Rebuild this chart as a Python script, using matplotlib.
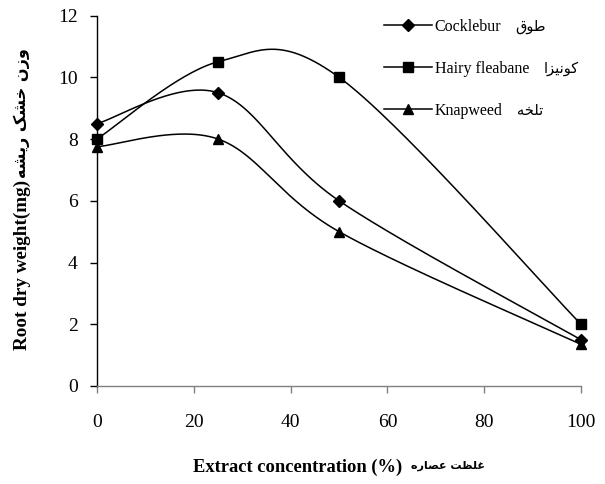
import numpy as np
import matplotlib
matplotlib.use("Agg")
import matplotlib.pyplot as plt
from matplotlib.lines import Line2D

conc = [0, 25, 50, 100]
cocklebur = [8.5, 9.5, 6.0, 1.5]
hairy_fleabane = [8.0, 10.5, 10.0, 2.0]
knapweed = [7.75, 8.0, 5.0, 1.35]

# Persian labels in visual (shaped) order
fa_cocklebur = "\uFED5\uFEEE\uFEC3"
fa_fleabane = "\uFE8D\uFEB0\uFBFF\uFEE7\uFEEE\uFB90"
fa_knapweed = "\uFEEA\uFEA8\uFEE0\uFE97"
fa_ylabel = "\uFEEA\uFEB8\uFBFE\uFEAD \uFB8F\uFEB8\uFEA7 \uFEE5\uFEAF\uFEED"
fa_xlabel = "\uFEE9\uFEAD\uFE8E\uFEBC\uFECB \uFE96\uFEC8\uFEE0\uFECF"

en_names = ["Cocklebur", "Hairy fleabane", "Knapweed"]
fa_names = [fa_cocklebur, fa_fleabane, fa_knapweed]
data = [cocklebur, hairy_fleabane, knapweed]
markers = [("D", 6.5), ("s", 6.5), ("^", 7.5)]

fam = ["Liberation Serif", "DejaVu Sans"]
plt.rcParams["font.family"] = fam
fa_fam = ["DejaVu Sans"]


def smooth(xs, ys, n=60):
    P = np.column_stack([xs, ys]).astype(float)
    out = []
    m = len(P)
    for i in range(m - 1):
        p0 = P[i - 1] if i > 0 else P[i]
        p1 = P[i]
        p2 = P[i + 1]
        p3 = P[i + 2] if i + 2 < m else P[i + 1]
        c1 = p1 + (p2 - p0) / 6.0
        c2 = p2 - (p3 - p1) / 6.0
        t = np.linspace(0, 1, n)[:, None]
        seg = ((1 - t) ** 3) * p1 + 3 * ((1 - t) ** 2) * t * c1 + 3 * (1 - t) * t ** 2 * c2 + t ** 3 * p2
        out.append(seg if i == 0 else seg[1:])
    out = np.vstack(out)
    return out[:, 0], out[:, 1]


W, H = 605, 484
fig = plt.figure(figsize=(W / 100, H / 100), dpi=100)
ax = fig.add_axes([97 / W, 1 - 386 / H, (581 - 97) / W, (386 - 15.5) / H])

handles = []
for vals, (mk, ms) in zip(data, markers):
    sx, sy = smooth(conc, vals)
    ax.plot(sx, sy, color="black", lw=1.1, clip_on=False)
    ax.plot(conc, vals, linestyle="none", marker=mk, color="black", ms=ms, clip_on=False, zorder=3)
    handles.append(Line2D([0], [0], color="black", lw=1.1, marker=mk, ms=ms))

ax.set_xlim(0, 100)
ax.set_ylim(0, 12)
ax.set_xticks([0, 20, 40, 60, 80, 100])
ax.set_yticks([0, 2, 4, 6, 8, 10, 12])
ax.spines["top"].set_visible(False)
ax.spines["right"].set_visible(False)
ax.spines["left"].set_linewidth(1.0)
ax.spines["left"].set_color("black")
ax.spines["bottom"].set_linewidth(1.0)
ax.spines["bottom"].set_color("#808080")
ax.tick_params(axis="y", direction="out", length=5, width=1.0, labelsize=14, pad=9, colors="black")
ax.tick_params(axis="x", direction="out", length=5, width=1.0, labelsize=14, pad=15,
               color="#808080", labelcolor="black")

leg = ax.legend(handles, en_names, loc="upper left", bbox_to_anchor=(0.594, 0.991),
                frameon=False, fontsize=11.5, handlelength=2.95, labelspacing=1.62,
                handletextpad=0.2, borderaxespad=0, borderpad=0)

fig.canvas.draw()
r = fig.canvas.get_renderer()

# legend Persian names
for t, fa in zip(leg.get_texts(), fa_names):
    bb = t.get_window_extent(r)
    fig.text((bb.x1 + 14) / W, (bb.y0 + bb.y1) / 2 / H, fa, family=fa_fam, fontsize=10.5,
             ha="left", va="center")

# x label
xe = fig.text(193 / W, 1 - 467 / H, "Extract concentration (%)", fontsize=13.3,
              fontweight="bold", ha="left", va="center")
bb = xe.get_window_extent(r)
fig.text((bb.x1 + 9) / W, 1 - 466 / H, fa_xlabel, family=fa_fam, fontsize=8,
         fontweight="bold", ha="left", va="center")

# y label
ye = fig.text(22 / W, 1 - 350 / H, "Root dry weight(mg)", fontsize=13.8, fontweight="bold",
              rotation=90, ha="center", va="bottom")
bb = ye.get_window_extent(r)
fig.text(22 / W, (bb.y1 + 2) / H, fa_ylabel, family=fa_fam, fontsize=11.5, fontweight="bold",
         rotation=90, ha="center", va="bottom")

fig.savefig("out.png", dpi=100)
